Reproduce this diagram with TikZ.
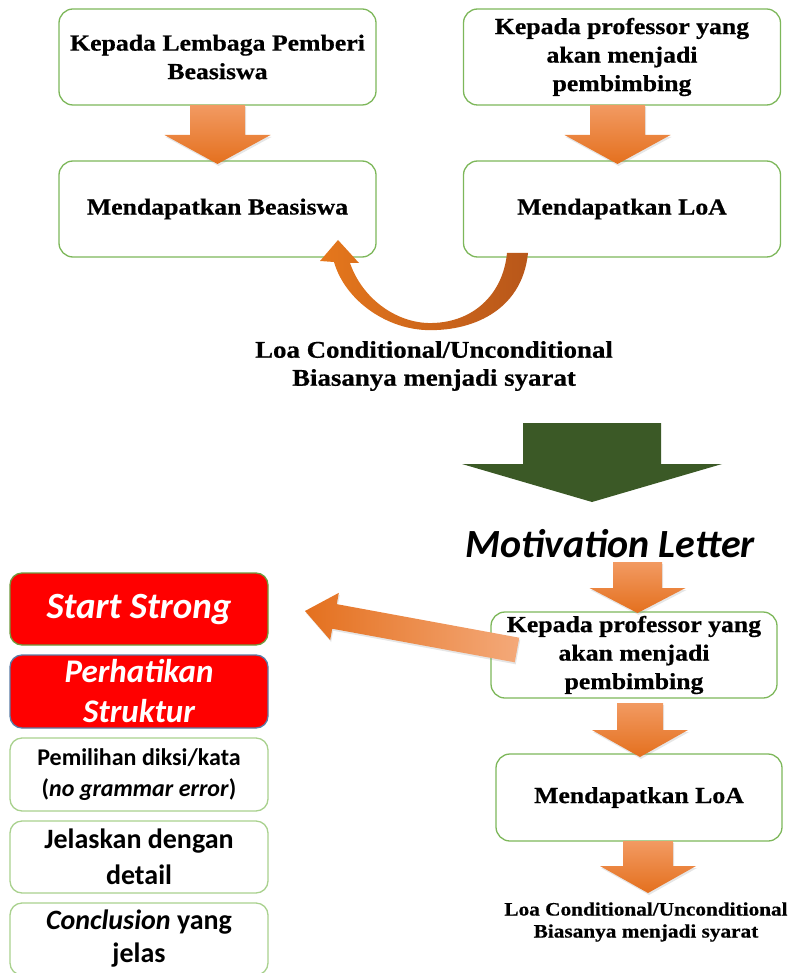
\documentclass[tikz,border=0pt]{standalone}
\usepackage{fontspec}
\setmainfont{Liberation Serif}
\newfontfamily\cambria[FakeStretch=1.12,FakeBold=0.6]{Liberation Serif}
\newfontfamily\calibri{Carlito}
\usetikzlibrary{calc,positioning,shadows}

\definecolor{boxline}{HTML}{7DB75A}
\definecolor{softline}{HTML}{A9D18E}
\definecolor{arrowtop}{HTML}{F29A62}
\definecolor{arrowbot}{HTML}{E4701E}
\definecolor{leafgreen}{HTML}{3B5926}
\definecolor{curvebrown}{HTML}{B8571A}
\definecolor{stronglime}{HTML}{6F9A3E}
\definecolor{structblue}{HTML}{5A7CA6}

% block arrow: [style]{from}{tip}{shaft half width}{head half width}{head length}
\newcommand{\fatarrow}[6][orangearrow]{%
  \path #2 coordinate (fa s) #3 coordinate (fa t);
  \coordinate (fa b) at ($(fa t)!#6pt!(fa s)$);
  \path[#1] ($(fa s)!#4pt!90:(fa t)$) -- ($(fa b)!#4pt!90:(fa t)$)
    -- ($(fa b)!#5pt!90:(fa t)$) -- (fa t) -- ($(fa b)!#5pt!-90:(fa t)$)
    -- ($(fa b)!#4pt!-90:(fa t)$) -- ($(fa s)!#4pt!-90:(fa t)$) -- cycle;}

\begin{document}
\begin{tikzpicture}[x=1pt,y=-1pt,
    flowbox/.style={draw=boxline, line width=1.3pt, rounded corners=14pt, fill=white,
      minimum width=317pt, minimum height=96pt, inner sep=2pt, outer sep=0pt, align=center,
      font=\cambria\bfseries\fontsize{23}{28.5}\selectfont},
    tipbox/.style={draw=softline, line width=1.3pt, rounded corners=12pt, fill=white,
      minimum width=258pt, minimum height=73pt, inner sep=2pt, outer sep=0pt, align=center},
    redbox/.style={tipbox, fill=red, text=white, font=\calibri\bfseries\itshape},
    orangearrow/.style={top color=arrowtop, bottom color=arrowbot,
      drop shadow={shadow xshift=1pt, shadow yshift=-2pt, opacity=.2}},
    greenarrow/.style={fill=leafgreen},
    diagarrow/.style={left color=arrowbot, right color=arrowtop!85!white,
      drop shadow={shadow xshift=1pt, shadow yshift=-2pt, opacity=.2}},
    curvearrow/.style={left color=arrowbot!95!yellow, right color=curvebrown}]
  \useasboundingbox (0,0) rectangle (787,973);
  \clip (0,0) rectangle (787,973);

  \node[flowbox] (lembaga) at (217.5,57) {Kepada Lembaga Pemberi\\Beasiswa};
  \node[flowbox, below=56pt of lembaga] (beasiswa) {Mendapatkan Beasiswa};
  \node[flowbox] (prof) at (622,57) {Kepada professor yang\\akan menjadi\\pembimbing};
  \node[flowbox, below=56pt of prof] (loa) {Mendapatkan LoA};

  \fatarrow{(lembaga.south)}{($(beasiswa.north)+(0,3)$)}{27.5}{53}{29}
  \fatarrow{($(prof.south)+(-4.5,0)$)}{($(loa.north)+(-4.5,3)$)}{27.5}{53}{29}

  \path[curvearrow] (528,253) .. controls (522,312) and (470,332) .. (425,330)
    .. controls (385,328) and (345,300) .. (334,262) -- (320,261) -- (338,240)
    -- (359,263) -- (350,263) .. controls (362,298) and (395,322) .. (428,323)
    .. controls (472,324) and (503,295) .. (507,253) -- cycle;

  \node[font=\cambria\bfseries\fontsize{24}{28}\selectfont, align=center] (syarat)
    at (434,366) {Loa Conditional/Unconditional\\Biasanya menjadi syarat};

  \coordinate (gtop) at (592,423);
  \coordinate (gtip) at (592,502);
  \fatarrow[greenarrow]{(gtop)}{(gtip)}{69}{130}{38}

  \node[font=\calibri\bfseries\itshape\fontsize{40}{46}\selectfont] (motiv) at (610,544) {Motivation Letter};

  \node[flowbox, minimum width=286pt, minimum height=86pt] (prof2) at (634,655)
    {Kepada professor yang\\akan menjadi\\pembimbing};
  \node[flowbox, minimum width=286pt, minimum height=87pt, below=56pt of prof2, xshift=5pt] (loa2)
    {Mendapatkan LoA};
  \node[font=\cambria\bfseries\fontsize{19}{22}\selectfont, align=center] (syarat2)
    at (646,922) {Loa Conditional/Unconditional\\Biasanya menjadi syarat};

  \coordinate (mtop) at (637.5,562);
  \fatarrow{(mtop)}{($(prof2.north)+(3.5,1)$)}{24.5}{48}{25}
  \fatarrow{($(prof2.south)+(6,5)$)}{($(loa2.north)+(1,3)$)}{23}{48}{27}
  \coordinate (stip) at (648,893);
  \fatarrow{($(loa2.south)+(9,0)$)}{(stip)}{25}{48}{27}

  \node[redbox, minimum height=72pt, draw=stronglime, font=\calibri\bfseries\itshape\fontsize{37}{42}\selectfont]
    (strong) at (139,609) {Start Strong};
  \node[redbox, below=10pt of strong, draw=structblue, font=\calibri\bfseries\itshape\fontsize{33}{40}\selectfont]
    (struktur) {Perhatikan\\Struktur};
  \node[tipbox, below=10pt of struktur, font=\calibri\bfseries\fontsize{24}{31}\selectfont]
    (diksi) {Pemilihan diksi/kata\\(\textit{no grammar error})};
  \node[tipbox, below=10pt of diksi, minimum height=72pt, font=\calibri\bfseries\fontsize{28}{36}\selectfont]
    (detail) {Jelaskan dengan\\detail};
  \node[tipbox, below=10pt of detail, minimum height=72pt, font=\calibri\bfseries\fontsize{28}{33}\selectfont]
    (conclusion) {\textit{Conclusion} yang\\jelas};

  \coordinate (dtip) at (305,611);
  \fatarrow[diagarrow]{($(prof2.west)+(26,-5)$)}{(dtip)}{12.5}{24}{30}
\end{tikzpicture}
\end{document}
